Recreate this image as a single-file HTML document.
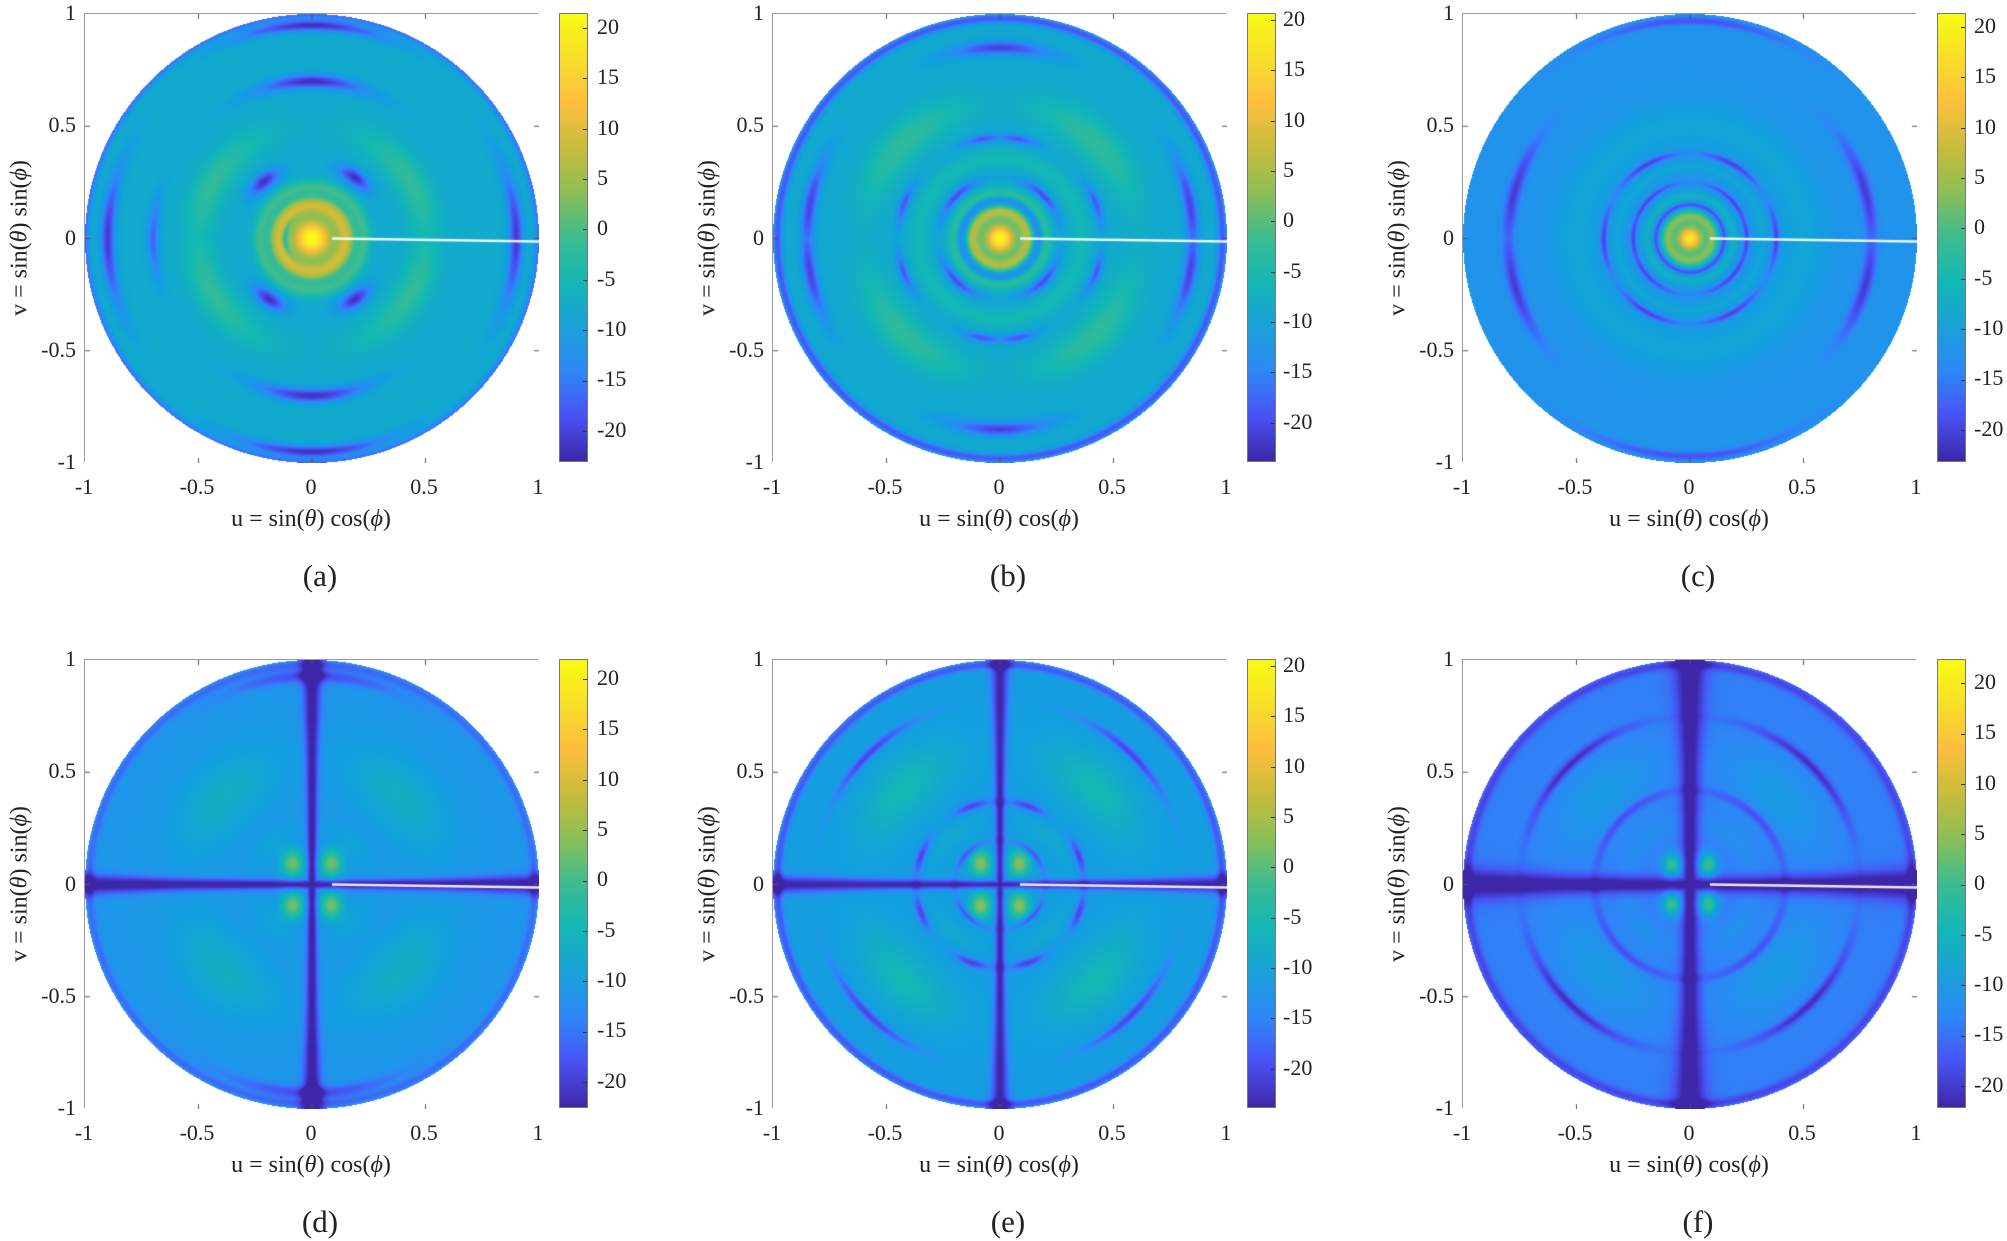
<!DOCTYPE html>
<html><head><meta charset="utf-8">
<style>
body{margin:0;background:#fff;width:2007px;height:1241px;position:relative;overflow:hidden;font-family:"Liberation Serif",serif;color:#222}
.pl{position:absolute;width:454px;height:449px;border:1px solid #9a9a9a;box-sizing:border-box}
.pl canvas{position:absolute;left:0;top:0}
.cb{position:absolute;width:29px;height:449px;border:1px solid #777;box-sizing:border-box;
background:linear-gradient(to top,#3e26a8 0%,#4852f4 10%,#2d87f7 20%,#1aa1d9 30%,#13b7b5 40%,#3cbc90 50%,#8bbf56 60%,#c8bc3b 70%,#fdbe3d 80%,#f7de29 90%,#f9fb14 100%)}
.t{position:absolute;font-size:22px;line-height:22px;white-space:nowrap}
.xt{transform:translateX(-50%)}
.yt{transform:translate(-100%,-50%)}
.ct{transform:translateY(-50%)}
.xl{position:absolute;font-size:24px;transform:translateX(-50%);white-space:nowrap}
.yl{position:absolute;font-size:24px;white-space:nowrap;transform:translate(-50%,-50%) rotate(-90deg)}
.cap{position:absolute;font-size:31px;transform:translate(-50%,-50%)}
i{font-style:italic}
</style></head><body>
<div id="root"></div>
<div class="t xt" style="left:84px;top:476px">-1</div><div class="t xt" style="left:197px;top:476px">-0.5</div><div class="t xt" style="left:311px;top:476px">0</div><div class="t xt" style="left:424px;top:476px">0.5</div><div class="t xt" style="left:538px;top:476px">1</div>
<div class="t xt" style="left:772px;top:476px">-1</div><div class="t xt" style="left:885px;top:476px">-0.5</div><div class="t xt" style="left:999px;top:476px">0</div><div class="t xt" style="left:1112px;top:476px">0.5</div><div class="t xt" style="left:1226px;top:476px">1</div>
<div class="t xt" style="left:1462px;top:476px">-1</div><div class="t xt" style="left:1575px;top:476px">-0.5</div><div class="t xt" style="left:1689px;top:476px">0</div><div class="t xt" style="left:1802px;top:476px">0.5</div><div class="t xt" style="left:1916px;top:476px">1</div>
<div class="t xt" style="left:84px;top:1122px">-1</div><div class="t xt" style="left:197px;top:1122px">-0.5</div><div class="t xt" style="left:311px;top:1122px">0</div><div class="t xt" style="left:424px;top:1122px">0.5</div><div class="t xt" style="left:538px;top:1122px">1</div>
<div class="t xt" style="left:772px;top:1122px">-1</div><div class="t xt" style="left:885px;top:1122px">-0.5</div><div class="t xt" style="left:999px;top:1122px">0</div><div class="t xt" style="left:1112px;top:1122px">0.5</div><div class="t xt" style="left:1226px;top:1122px">1</div>
<div class="t xt" style="left:1462px;top:1122px">-1</div><div class="t xt" style="left:1575px;top:1122px">-0.5</div><div class="t xt" style="left:1689px;top:1122px">0</div><div class="t xt" style="left:1802px;top:1122px">0.5</div><div class="t xt" style="left:1916px;top:1122px">1</div>

<div class="t yt" style="left:76px;top:13px">1</div><div class="t yt" style="left:76px;top:125px">0.5</div><div class="t yt" style="left:76px;top:238px">0</div><div class="t yt" style="left:76px;top:350px">-0.5</div><div class="t yt" style="left:76px;top:462px">-1</div>
<div class="t yt" style="left:764px;top:13px">1</div><div class="t yt" style="left:764px;top:125px">0.5</div><div class="t yt" style="left:764px;top:238px">0</div><div class="t yt" style="left:764px;top:350px">-0.5</div><div class="t yt" style="left:764px;top:462px">-1</div>
<div class="t yt" style="left:1454px;top:13px">1</div><div class="t yt" style="left:1454px;top:125px">0.5</div><div class="t yt" style="left:1454px;top:238px">0</div><div class="t yt" style="left:1454px;top:350px">-0.5</div><div class="t yt" style="left:1454px;top:462px">-1</div>
<div class="t yt" style="left:76px;top:659px">1</div><div class="t yt" style="left:76px;top:771px">0.5</div><div class="t yt" style="left:76px;top:884px">0</div><div class="t yt" style="left:76px;top:996px">-0.5</div><div class="t yt" style="left:76px;top:1108px">-1</div>
<div class="t yt" style="left:764px;top:659px">1</div><div class="t yt" style="left:764px;top:771px">0.5</div><div class="t yt" style="left:764px;top:884px">0</div><div class="t yt" style="left:764px;top:996px">-0.5</div><div class="t yt" style="left:764px;top:1108px">-1</div>
<div class="t yt" style="left:1454px;top:659px">1</div><div class="t yt" style="left:1454px;top:771px">0.5</div><div class="t yt" style="left:1454px;top:884px">0</div><div class="t yt" style="left:1454px;top:996px">-0.5</div><div class="t yt" style="left:1454px;top:1108px">-1</div>

<div class="yl" style="left:20px;top:238px">v = sin(<i>θ</i>) sin(<i>ϕ</i>)</div>
<div class="yl" style="left:708px;top:238px">v = sin(<i>θ</i>) sin(<i>ϕ</i>)</div>
<div class="yl" style="left:1398px;top:238px">v = sin(<i>θ</i>) sin(<i>ϕ</i>)</div>
<div class="yl" style="left:20px;top:884px">v = sin(<i>θ</i>) sin(<i>ϕ</i>)</div>
<div class="yl" style="left:708px;top:884px">v = sin(<i>θ</i>) sin(<i>ϕ</i>)</div>
<div class="yl" style="left:1398px;top:884px">v = sin(<i>θ</i>) sin(<i>ϕ</i>)</div>

<div class="xl" style="left:311px;top:506px">u = sin(<i>θ</i>) cos(<i>ϕ</i>)</div>
<div class="xl" style="left:999px;top:506px">u = sin(<i>θ</i>) cos(<i>ϕ</i>)</div>
<div class="xl" style="left:1689px;top:506px">u = sin(<i>θ</i>) cos(<i>ϕ</i>)</div>
<div class="xl" style="left:311px;top:1152px">u = sin(<i>θ</i>) cos(<i>ϕ</i>)</div>
<div class="xl" style="left:999px;top:1152px">u = sin(<i>θ</i>) cos(<i>ϕ</i>)</div>
<div class="xl" style="left:1689px;top:1152px">u = sin(<i>θ</i>) cos(<i>ϕ</i>)</div>

<div class="cap" style="left:320px;top:576px">(a)</div>
<div class="cap" style="left:1008px;top:576px">(b)</div>
<div class="cap" style="left:1698px;top:576px">(c)</div>
<div class="cap" style="left:320px;top:1222px">(d)</div>
<div class="cap" style="left:1008px;top:1222px">(e)</div>
<div class="cap" style="left:1698px;top:1222px">(f)</div>

<div class="t ct" style="left:597px;top:27px">20</div><div class="t ct" style="left:597px;top:77px">15</div><div class="t ct" style="left:597px;top:128px">10</div><div class="t ct" style="left:597px;top:178px">5</div><div class="t ct" style="left:597px;top:228px">0</div><div class="t ct" style="left:597px;top:279px">-5</div><div class="t ct" style="left:597px;top:329px">-10</div><div class="t ct" style="left:597px;top:379px">-15</div><div class="t ct" style="left:597px;top:430px">-20</div>
<div class="t ct" style="left:1283px;top:19px">20</div><div class="t ct" style="left:1283px;top:69px">15</div><div class="t ct" style="left:1283px;top:120px">10</div><div class="t ct" style="left:1283px;top:170px">5</div><div class="t ct" style="left:1283px;top:220px">0</div><div class="t ct" style="left:1283px;top:271px">-5</div><div class="t ct" style="left:1283px;top:321px">-10</div><div class="t ct" style="left:1283px;top:371px">-15</div><div class="t ct" style="left:1283px;top:422px">-20</div>
<div class="t ct" style="left:1974px;top:26px">20</div><div class="t ct" style="left:1974px;top:76px">15</div><div class="t ct" style="left:1974px;top:127px">10</div><div class="t ct" style="left:1974px;top:177px">5</div><div class="t ct" style="left:1974px;top:227px">0</div><div class="t ct" style="left:1974px;top:278px">-5</div><div class="t ct" style="left:1974px;top:328px">-10</div><div class="t ct" style="left:1974px;top:378px">-15</div><div class="t ct" style="left:1974px;top:429px">-20</div>
<div class="t ct" style="left:597px;top:678px">20</div><div class="t ct" style="left:597px;top:728px">15</div><div class="t ct" style="left:597px;top:779px">10</div><div class="t ct" style="left:597px;top:829px">5</div><div class="t ct" style="left:597px;top:879px">0</div><div class="t ct" style="left:597px;top:930px">-5</div><div class="t ct" style="left:597px;top:980px">-10</div><div class="t ct" style="left:597px;top:1030px">-15</div><div class="t ct" style="left:597px;top:1081px">-20</div>
<div class="t ct" style="left:1283px;top:665px">20</div><div class="t ct" style="left:1283px;top:715px">15</div><div class="t ct" style="left:1283px;top:766px">10</div><div class="t ct" style="left:1283px;top:816px">5</div><div class="t ct" style="left:1283px;top:866px">0</div><div class="t ct" style="left:1283px;top:917px">-5</div><div class="t ct" style="left:1283px;top:967px">-10</div><div class="t ct" style="left:1283px;top:1017px">-15</div><div class="t ct" style="left:1283px;top:1068px">-20</div>
<div class="t ct" style="left:1974px;top:682px">20</div><div class="t ct" style="left:1974px;top:732px">15</div><div class="t ct" style="left:1974px;top:783px">10</div><div class="t ct" style="left:1974px;top:833px">5</div><div class="t ct" style="left:1974px;top:883px">0</div><div class="t ct" style="left:1974px;top:934px">-5</div><div class="t ct" style="left:1974px;top:984px">-10</div><div class="t ct" style="left:1974px;top:1034px">-15</div><div class="t ct" style="left:1974px;top:1085px">-20</div>

<script>
var P=[[0,0.2422,0.1504,0.6603],[0.1,0.2810,0.3228,0.9579],[0.2,0.1786,0.5289,0.9682],[0.3,0.0689,0.6279,0.8710],[0.4,0.07,0.72,0.71],[0.5,0.235,0.737,0.565],[0.6,0.545,0.749,0.337],[0.7,0.784,0.737,0.231],[0.8,0.992,0.746,0.241],[0.9,0.969,0.872,0.162],[1,0.977,0.984,0.08]];
function cmap(t){t=Math.max(0,Math.min(1,t));for(var i=0;i<P.length-1;i++){if(t<=P[i+1][0]){var f=(t-P[i][0])/0.1;return[255*(P[i][1]+f*(P[i+1][1]-P[i][1])),255*(P[i][2]+f*(P[i+1][2]-P[i][2])),255*(P[i][3]+f*(P[i+1][3]-P[i][3]))];}}return[249,251,20];}
function g(x){return Math.exp(-x*x);}
function adiff(a,b){var d=Math.abs(a-b)%360;return d>180?360-d:d;}
function ring(r,ph,F){var v=0;for(var k=0;k<F.length;k++){var f=F[k];var w=g((r-f[0])/f[1]);if(f[3]!=null){var m=1e9;for(var j=0;j<f[3].length;j++)m=Math.min(m,adiff(ph,f[3][j]));w*=g(m/f[4]);}v+=f[2]*w;}return v;}
var Q=[45,135,225,315],AX=[0,180],AY=[90,270],Q2=[30,150,210,330];
var specs=[
{X:84,Y:13,top:21.4,base:-8,F:[[0,0.09,30],[0.15,0.04,15],[0.23,0.03,7],[0.12,0.012,-8,[180],40],[0.33,0.035,-14,[55,130,235,305],14],[0.5,0.07,6,Q2,35],[0.7,0.03,-14,AY,20],[0.95,0.025,-14,AY,20],[0.9,0.03,-13,AX,20],[0.7,0.025,-9,[180],15],[1.0,0.02,-8]]},
{X:772,Y:13,top:20.6,base:-9,F:[[0,0.07,29],[0.12,0.03,13],[0.17,0.02,-8],[0.2,0.03,6],[0.27,0.02,-11,Q,25],[0.36,0.04,3],[0.45,0.02,-10,[80,100,260,280,20,340,160,200],12],[0.6,0.08,6,Q,30],[0.85,0.03,-12,[10,350,170,190,90,270],15],[0.98,0.02,-10]]},
{X:1462,Y:13,top:21.3,base:-12,F:[[0,0.06,31],[0.1,0.03,13],[0.15,0.012,-8],[0.19,0.025,5],[0.25,0.012,-8,[40,140,220,320,0,180],40],[0.32,0.03,3],[0.38,0.015,-9,[60,120,240,300,0,180],25],[0.5,0.1,3],[0.8,0.03,-9,[15,345,165,195],20],[0.97,0.02,-7,AY,30]]},
{X:84,Y:659,top:21.9,base:-11,cross:[0.022,-13],lobe:[0.085,0.06,14],F:[[0.55,0.15,4.5,Q,30],[0.25,0.06,2,Q,30],[0.93,0.03,-8,AY,25],[0.98,0.02,-5]]},
{X:772,Y:659,top:20.6,base:-11,cross:[0.02,-13],lobe:[0.085,0.055,14],F:[[0.6,0.12,5,Q,25],[0.3,0.05,2,Q,25],[0.37,0.02,-10,[20,160,200,340,70,110,250,290],14],[0.2,0.015,-9,Q,30],[0.82,0.02,-10,Q,18],[0.98,0.02,-8]]},
{X:1462,Y:659,top:22.3,base:-14,cross:[0.035,-10],lobe:[0.08,0.05,14],F:[[0.55,0.15,4,Q,30],[0.28,0.05,2,Q,30],[0.42,0.02,-6,Q,35],[0.75,0.02,-8,Q,25],[0.98,0.02,-5]]}
];
var root=document.getElementById('root');
specs.forEach(function(s){
 var d=document.createElement('div');d.className='pl';d.style.left=s.X+'px';d.style.top=s.Y+'px';root.appendChild(d);
 var W=454,H=449,c=document.createElement('canvas');c.width=W;c.height=H;d.appendChild(c);
 var ctx=c.getContext('2d'),im=ctx.createImageData(W,H),D=im.data,lo=s.top-44.6;
 for(var y=0;y<H;y++)for(var x=0;x<W;x++){
  var u=(x+0.5-W/2)/(W/2),v=-(y+0.5-H/2)/(H/2),r=Math.sqrt(u*u+v*v);var o=(y*W+x)*4;
  if(r>1){D[o]=D[o+1]=D[o+2]=255;D[o+3]=255;continue;}
  var ph=Math.atan2(v,u)*180/Math.PI;if(ph<0)ph+=360;
  var val=s.base+ring(r,ph,s.F);
  if(s.cross){var cw=s.cross[0]*(1+1.2*r*r);val+=s.cross[1]*Math.max(g(u/cw),g(v/cw));
   var lu=(Math.abs(u)-s.lobe[0])/0.8,lv=(Math.abs(v)-s.lobe[0]*1.1);
   val+=s.lobe[2]*(g(Math.hypot(lu,lv)/s.lobe[1]));}
  var cl=cmap((val-lo)/44.6);D[o]=cl[0];D[o+1]=cl[1];D[o+2]=cl[2];D[o+3]=255;}
 ctx.putImageData(im,0,0);
 ctx.strokeStyle='rgba(255,255,255,0.9)';ctx.lineWidth=2.5;ctx.beginPath();ctx.moveTo(W/2+20,H/2);ctx.lineTo(W,H/2+3);ctx.stroke();
 ctx.strokeStyle='#555';ctx.lineWidth=1;
 [0.25,0.5,0.75].forEach(function(f){ctx.beginPath();ctx.moveTo(W*f,0);ctx.lineTo(W*f,5);ctx.moveTo(W*f,H);ctx.lineTo(W*f,H-5);ctx.moveTo(0,H*f);ctx.lineTo(5,H*f);ctx.moveTo(W,H*f);ctx.lineTo(W-5,H*f);ctx.stroke();});
 var cb=document.createElement('div');cb.className='cb';cb.style.left=(s.X+475)+'px';cb.style.top=s.Y+'px';root.appendChild(cb);
 for(var k=20;k>=-20;k-=5){var t=document.createElement('div');t.style.cssText='position:absolute;right:0;width:4px;height:1px;background:#333;top:'+Math.round((s.top-k)*10.07)+'px';cb.appendChild(t);}
});
</script>
</body></html>
